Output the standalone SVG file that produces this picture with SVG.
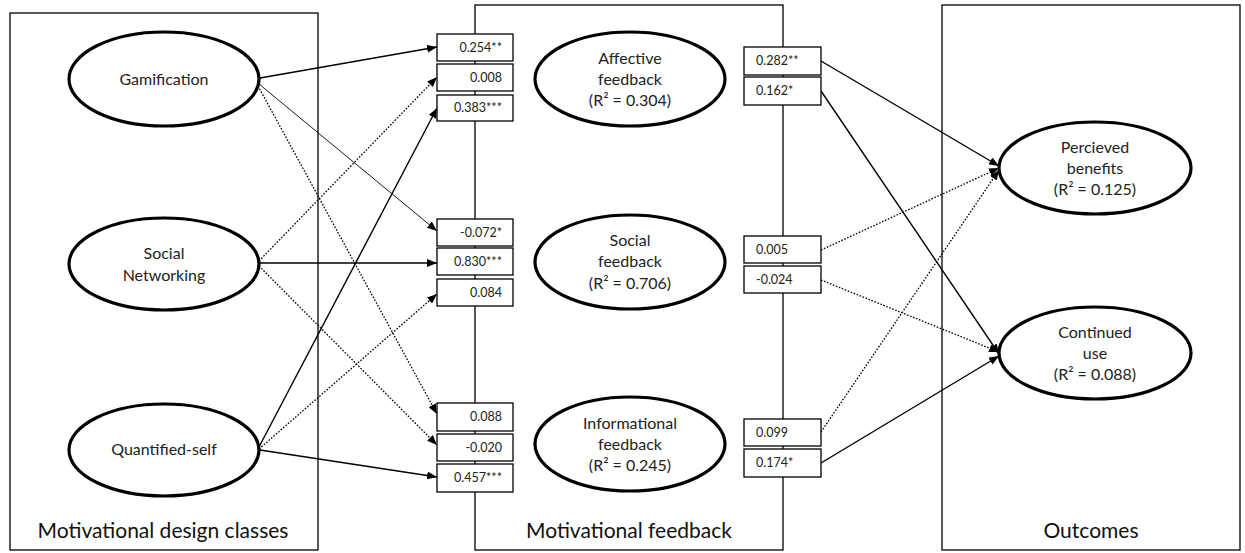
<svg xmlns="http://www.w3.org/2000/svg" width="1245" height="553" viewBox="0 0 1245 553">
<style>
.panel{fill:none;stroke:#000;stroke-width:1.3}
.ell{fill:#fff;stroke:#000;stroke-width:3.2}
.box{fill:#fff;stroke:#000;stroke-width:1.3}
.t{font-family:Lato,"Open Sans",sans-serif;font-size:16px;fill:#222;text-anchor:middle}
.bt{font-family:Lato,"Open Sans",sans-serif;font-size:12.5px;fill:#222}
.r{text-anchor:end}
.pl{font-family:Lato,"Open Sans",sans-serif;font-size:21px;fill:#111;text-anchor:middle}
.s{stroke:#000;stroke-width:1.4;fill:none;marker-end:url(#ah)}
.thin{stroke:#000;stroke-width:0.9;fill:none;marker-end:url(#ah)}
.d{stroke:#000;stroke-width:1.3;stroke-dasharray:1.6 1.6;fill:none;marker-end:url(#ah)}
</style>
<defs>
<marker id="ah" viewBox="0 0 10 8" refX="10" refY="4" markerWidth="10" markerHeight="8" markerUnits="userSpaceOnUse" orient="auto">
<path d="M0,0 L10,4 L0,8 Z" fill="#000"/>
</marker>
</defs>
<rect width="1245" height="553" fill="#fff"/>
<g id="panels">
<rect class="panel" x="10" y="13" width="308" height="537"/>
<rect class="panel" x="475" y="5" width="308" height="545"/>
<rect class="panel" x="942" y="5" width="298" height="545"/>
<text class="pl" x="163" y="538">Motivational design classes</text>
<text class="pl" x="629" y="538">Motivational feedback</text>
<text class="pl" x="1091" y="538">Outcomes</text>
</g>
<g id="connectors">
<line class="s" x1="260" y1="78" x2="437" y2="47"/>
<line class="thin" x1="259" y1="84" x2="437" y2="231"/>
<line class="d" x1="258" y1="86" x2="437" y2="414"/>
<line class="d" x1="259" y1="261" x2="437" y2="77"/>
<line class="s" x1="260" y1="263" x2="437" y2="263"/>
<line class="d" x1="259" y1="266" x2="437" y2="445"/>
<line class="s" x1="259" y1="447" x2="437" y2="108"/>
<line class="d" x1="259" y1="449" x2="437" y2="294"/>
<line class="s" x1="260" y1="450" x2="437" y2="477"/>
<line class="s" x1="821" y1="61" x2="999" y2="166"/>
<line class="s" x1="821" y1="91" x2="999" y2="354"/>
<line class="d" x1="821" y1="250" x2="999" y2="168"/>
<line class="d" x1="821" y1="280" x2="999" y2="352"/>
<line class="d" x1="821" y1="432" x2="999" y2="170"/>
<line class="s" x1="821" y1="463" x2="999" y2="356"/>
</g>
<g id="coef-affective">
<rect class="box" x="437" y="34" width="76" height="27"/><text class="bt r" x="502" y="52">0.254**</text>
<rect class="box" x="437" y="64" width="76" height="27"/><text class="bt r" x="502" y="82">0.008</text>
<rect class="box" x="437" y="95" width="76" height="26"/><text class="bt r" x="502" y="112">0.383***</text>
</g>
<g id="coef-social">
<rect class="box" x="437" y="219" width="76" height="27"/><text class="bt r" x="502" y="237">-0.072*</text>
<rect class="box" x="437" y="248" width="76" height="27"/><text class="bt r" x="502" y="266">0.830***</text>
<rect class="box" x="437" y="279" width="76" height="27"/><text class="bt r" x="502" y="297">0.084</text>
</g>
<g id="coef-informational">
<rect class="box" x="437" y="403" width="76" height="28"/><text class="bt r" x="502" y="421">0.088</text>
<rect class="box" x="437" y="434" width="76" height="27"/><text class="bt r" x="502" y="452">-0.020</text>
<rect class="box" x="437" y="464" width="76" height="28"/><text class="bt r" x="502" y="482">0.457***</text>
</g>
<g id="coef-outcomes">
<rect class="box" x="744" y="47" width="77" height="28"/><text class="bt" x="756" y="65">0.282**</text>
<rect class="box" x="744" y="77" width="77" height="28"/><text class="bt" x="756" y="95">0.162*</text>
<rect class="box" x="744" y="236" width="77" height="27"/><text class="bt" x="756" y="254">0.005</text>
<rect class="box" x="744" y="266" width="77" height="27"/><text class="bt" x="756" y="284">-0.024</text>
<rect class="box" x="744" y="419" width="77" height="27"/><text class="bt" x="756" y="437">0.099</text>
<rect class="box" x="744" y="449" width="77" height="28"/><text class="bt" x="756" y="467">0.174*</text>
</g>
<g id="gamification">
<ellipse class="ell" cx="164" cy="79" rx="95" ry="47"/>
<text class="t" x="164" y="85">Gamification</text>
</g>
<g id="social-networking">
<ellipse class="ell" cx="164" cy="264" rx="95" ry="46"/>
<text class="t" x="164" y="259">Social</text>
<text class="t" x="164" y="281">Networking</text>
</g>
<g id="quantified-self">
<ellipse class="ell" cx="164" cy="450" rx="95" ry="46"/>
<text class="t" x="164" y="455">Quantified-self</text>
</g>
<g id="affective-feedback">
<ellipse class="ell" cx="630" cy="79" rx="95" ry="47"/>
<text class="t" x="630" y="64">Affective</text>
<text class="t" x="630" y="85">feedback</text>
<text class="t" x="630" y="106">(R² = 0.304)</text>
</g>
<g id="social-feedback">
<ellipse class="ell" cx="630" cy="262" rx="95" ry="47"/>
<text class="t" x="630" y="246">Social</text>
<text class="t" x="630" y="267">feedback</text>
<text class="t" x="630" y="289">(R² = 0.706)</text>
</g>
<g id="informational-feedback">
<ellipse class="ell" cx="630" cy="444" rx="95" ry="47"/>
<text class="t" x="630" y="429">Informational</text>
<text class="t" x="630" y="450">feedback</text>
<text class="t" x="630" y="471">(R² = 0.245)</text>
</g>
<g id="perceived-benefits">
<ellipse class="ell" cx="1095" cy="168" rx="96" ry="46"/>
<text class="t" x="1095" y="153">Percieved</text>
<text class="t" x="1095" y="174">benefits</text>
<text class="t" x="1095" y="195">(R² = 0.125)</text>
</g>
<g id="continued-use">
<ellipse class="ell" cx="1095" cy="353" rx="96" ry="46"/>
<text class="t" x="1095" y="338">Continued</text>
<text class="t" x="1095" y="359">use</text>
<text class="t" x="1095" y="380">(R² = 0.088)</text>
</g>
</svg>
